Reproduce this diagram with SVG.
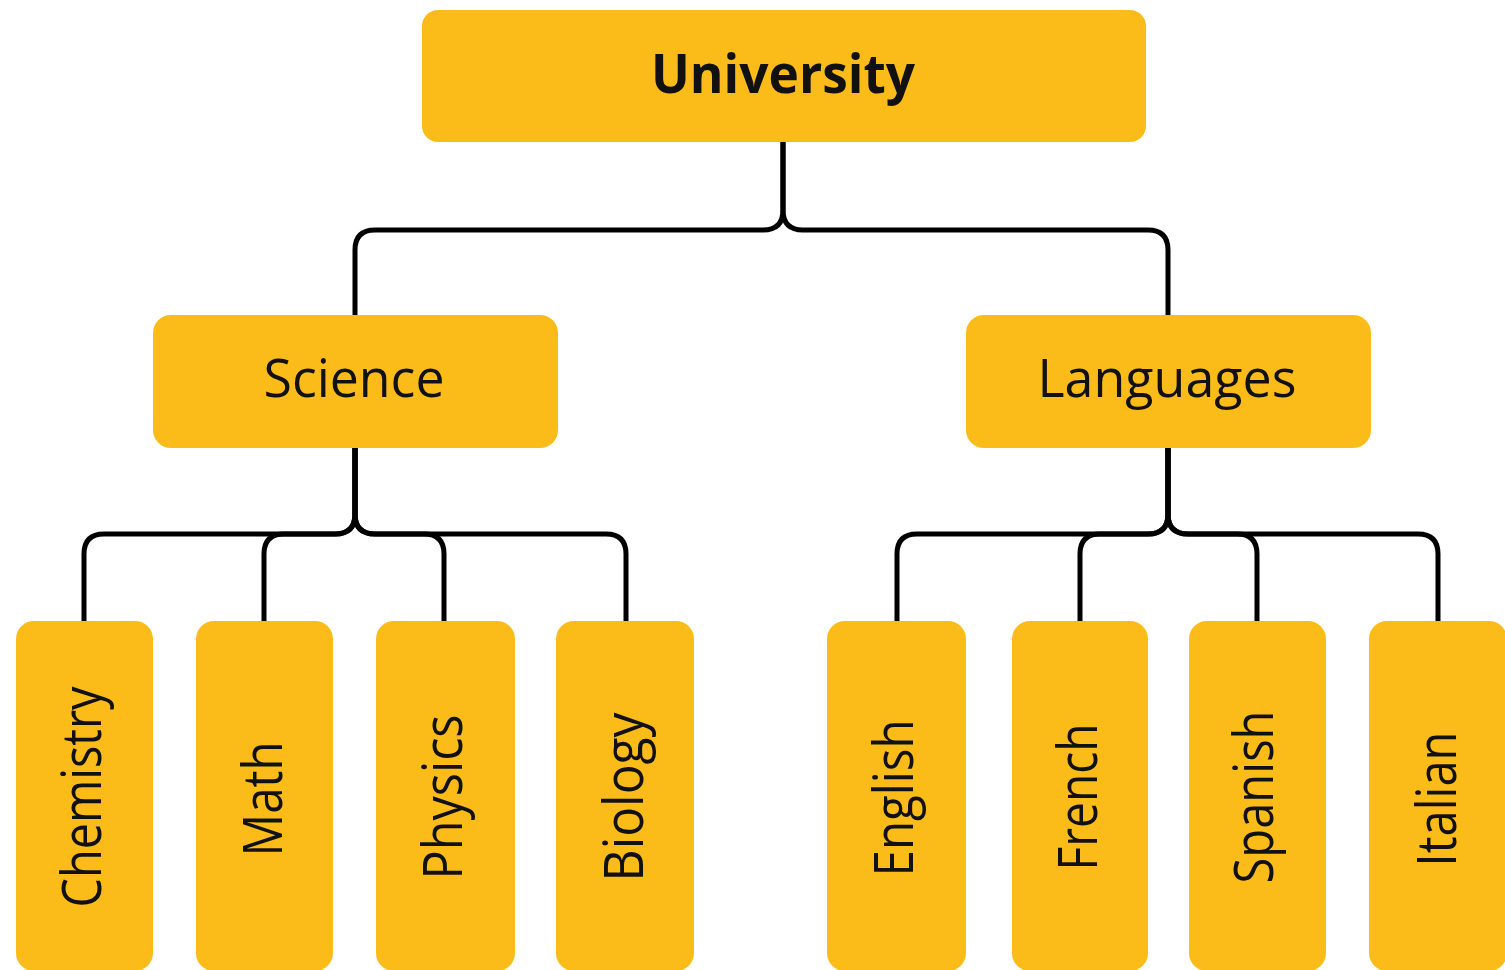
<svg xmlns="http://www.w3.org/2000/svg" width="1505" height="970" viewBox="0 0 1505 970">
<style>
.box{fill:#FBBC19;}
.conn{fill:none;stroke:#000;stroke-width:5;stroke-linejoin:round;}
.lbl{font-family:"Open Sans","Noto Sans",sans-serif;fill:#111;text-anchor:middle;}
.top{font-size:53px;}
.leaf{font-size:54px;}
</style>
<rect width="1505" height="970" fill="#fff"/>
<g id="connectors">
<path class="conn" d="M783 142V210Q783 230 763 230H375Q355 230 355 250V316"/>
<path class="conn" d="M783 142V210Q783 230 803 230H1148Q1168 230 1168 250V316"/>
<path class="conn" d="M355 448V514Q355 534 335 534H104Q84 534 84 554V622"/>
<path class="conn" d="M355 448V514Q355 534 335 534H284Q264 534 264 554V622"/>
<path class="conn" d="M355 448V514Q355 534 375 534H424Q444 534 444 554V622"/>
<path class="conn" d="M355 448V514Q355 534 375 534H606Q626 534 626 554V622"/>
<path class="conn" d="M1168 448V514Q1168 534 1148 534H917Q897 534 897 554V622"/>
<path class="conn" d="M1168 448V514Q1168 534 1148 534H1100Q1080 534 1080 554V622"/>
<path class="conn" d="M1168 448V514Q1168 534 1188 534H1237Q1257 534 1257 554V622"/>
<path class="conn" d="M1168 448V514Q1168 534 1188 534H1418Q1438 534 1438 554V622"/>
</g>
<g id="university">
<rect class="box" x="422" y="10" width="724" height="132" rx="16"/>
<text class="lbl top" x="783" y="93" font-weight="bold" textLength="264" lengthAdjust="spacingAndGlyphs">University</text>
</g>
<g id="science">
<rect class="box" x="153" y="315" width="405" height="133" rx="18"/>
<text class="lbl top" x="354" y="397" textLength="181" lengthAdjust="spacingAndGlyphs">Science</text>
</g>
<g id="languages">
<rect class="box" x="966" y="315" width="405" height="133" rx="18"/>
<text class="lbl top" x="1167" y="397" textLength="259" lengthAdjust="spacingAndGlyphs">Languages</text>
</g>
<g id="chemistry">
<rect class="box" x="16" y="621" width="137" height="350" rx="18"/>
<text class="lbl leaf" transform="translate(101 797) rotate(-90)" textLength="221" lengthAdjust="spacingAndGlyphs">Chemistry</text>
</g>
<g id="math">
<rect class="box" x="196" y="621" width="137" height="350" rx="18"/>
<text class="lbl leaf" transform="translate(282 799) rotate(-90)" textLength="115" lengthAdjust="spacingAndGlyphs">Math</text>
</g>
<g id="physics">
<rect class="box" x="376" y="621" width="139" height="350" rx="18"/>
<text class="lbl leaf" transform="translate(462 797) rotate(-90)" textLength="165" lengthAdjust="spacingAndGlyphs">Physics</text>
</g>
<g id="biology">
<rect class="box" x="556" y="621" width="138" height="350" rx="18"/>
<text class="lbl leaf" transform="translate(643 797) rotate(-90)" textLength="169" lengthAdjust="spacingAndGlyphs">Biology</text>
</g>
<g id="english">
<rect class="box" x="827" y="621" width="139" height="350" rx="18"/>
<text class="lbl leaf" transform="translate(913 798) rotate(-90)" textLength="157" lengthAdjust="spacingAndGlyphs">English</text>
</g>
<g id="french">
<rect class="box" x="1012" y="621" width="136" height="350" rx="18"/>
<text class="lbl leaf" transform="translate(1097 797) rotate(-90)" textLength="147" lengthAdjust="spacingAndGlyphs">French</text>
</g>
<g id="spanish">
<rect class="box" x="1189" y="621" width="137" height="350" rx="18"/>
<text class="lbl leaf" transform="translate(1273 797) rotate(-90)" textLength="173" lengthAdjust="spacingAndGlyphs">Spanish</text>
</g>
<g id="italian">
<rect class="box" x="1369" y="621" width="138" height="350" rx="18"/>
<text class="lbl leaf" transform="translate(1456 799) rotate(-90)" textLength="135" lengthAdjust="spacingAndGlyphs">Italian</text>
</g>
</svg>
